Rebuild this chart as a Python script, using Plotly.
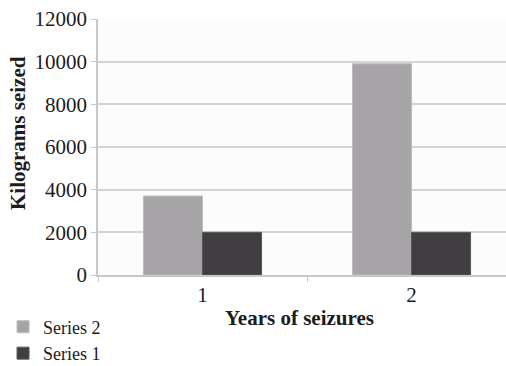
import plotly.graph_objects as go

categories = ["1", "2"]
series2 = [3700, 9900]
series1 = [2000, 2000]
y_ticks = [0, 2000, 4000, 6000, 8000, 10000, 12000]
y_tick_labels = ["0", "2000", "4000", "6000", "8000", "10000", "12000"]

font_family = "Liberation Serif"
text_color = "#1c1c1c"
fsize = 21

fig = go.Figure()
fig.add_trace(go.Bar(x=categories, y=series2, name="Series 2",
                     marker=dict(color="#a7a4a7", line=dict(color="#bdbbbd", width=1))))
fig.add_trace(go.Bar(x=categories, y=series1, name="Series 1",
                     marker=dict(color="#413e41", line=dict(color="#5a575a", width=1))))

fig.update_layout(
    width=506, height=366,
    margin=dict(l=98, r=0, t=19, b=91, autoexpand=False),
    paper_bgcolor="white", plot_bgcolor="#fcfcfc",
    barmode="group", bargap=0.435, bargroupgap=0,
    font=dict(family=font_family, size=fsize, color=text_color),
    showlegend=True,
    legend=dict(xref="container", yref="container", x=0.006, y=0.157,
                xanchor="left", yanchor="top",
                font=dict(family=font_family, size=18, color=text_color),
                itemwidth=30, tracegroupgap=0, bgcolor="rgba(0,0,0,0)"),
    annotations=[
        dict(text="<b>Years of seizures</b>", xref="paper", yref="paper",
             x=(299 - 98) / 408, y=-(318 - 275) / 256, xanchor="center", yanchor="middle",
             showarrow=False, font=dict(family=font_family, size=fsize, color=text_color)),
        dict(text="<b>Kilograms seized</b>", xref="paper", yref="paper",
             x=-(98 - 18) / 408, y=(275 - 133) / 256, xanchor="center", yanchor="middle",
             textangle=-90, showarrow=False,
             font=dict(family=font_family, size=fsize, color=text_color)),
    ],
)
fig.update_xaxes(
    type="category", range=[-0.5, 1.452], automargin=False,
    showgrid=False, showline=True, linecolor="#c8c8c8", linewidth=1.5,
    ticks="outside", tickson="boundaries", ticklen=5, tickcolor="#c8c8c8",
    tickfont=dict(family=font_family, size=fsize, color=text_color),
)
fig.update_yaxes(
    range=[0, 12000], tickvals=y_ticks, ticktext=y_tick_labels, automargin=False,
    showgrid=True, gridcolor="#d4d4d4", gridwidth=1.5,
    showline=True, linecolor="#c8c8c8", linewidth=1.5,
    ticks="outside", ticklen=5, tickcolor="#c8c8c8",
    zeroline=False,
    tickfont=dict(family=font_family, size=fsize, color=text_color),
)

fig.write_html("out.html", config={"displayModeBar": False},
               post_script="document.body.style.margin='0';document.body.style.overflow='hidden';")
